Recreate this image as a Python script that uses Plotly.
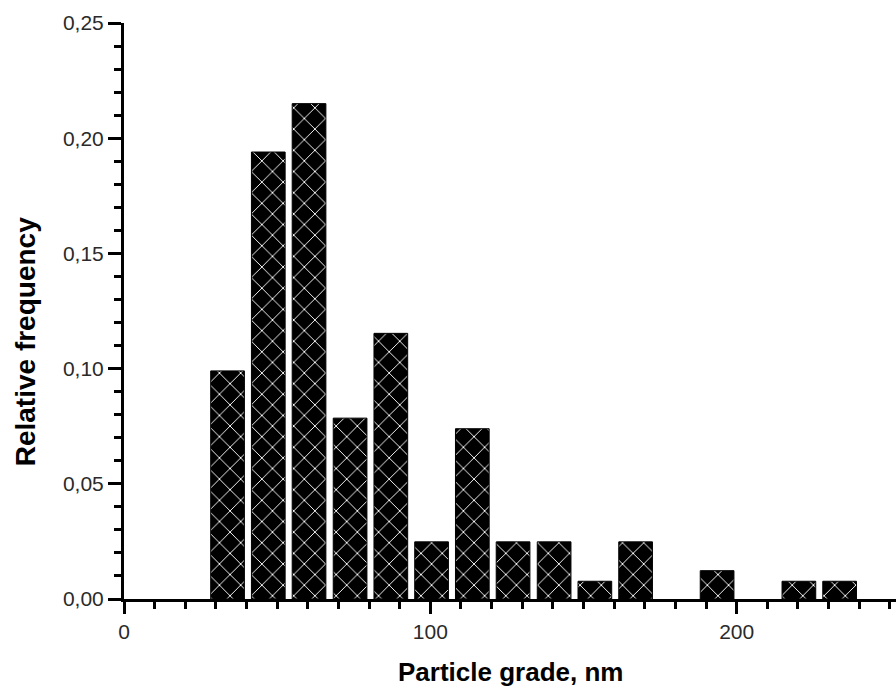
import plotly.graph_objects as go

# Data
bin_centers = [33.8, 47.1, 60.4, 73.8, 87.1, 100.4, 113.7, 127.0, 140.4, 153.7,
               167.0, 193.6, 220.3, 233.6]
rel_freq = [0.099, 0.194, 0.215, 0.0785, 0.1153, 0.0248, 0.0739, 0.0248, 0.0248,
            0.0077, 0.0248, 0.0123, 0.0077, 0.0077]
bar_width = 11.0
x_ticks = [0, 100, 200]
y_ticks = [0.0, 0.05, 0.10, 0.15, 0.20, 0.25]

fig = go.Figure()
fig.add_trace(go.Bar(
    x=bin_centers, y=rel_freq, width=bar_width,
    marker=dict(
        color="black",
        line=dict(color="black", width=1),
        pattern=dict(shape="x", fgcolor="white", bgcolor="black",
                     size=15, solidity=0.12, fillmode="replace"),
    ),
    showlegend=False,
))

tick_font = dict(family="Liberation Sans", size=21, color="#2a2a2a")

fig.update_layout(
    width=896, height=689,
    margin=dict(l=124, r=0, t=22.5, b=89.5),
    paper_bgcolor="white", plot_bgcolor="white",
    separators=",.",
    xaxis=dict(
        range=[0, 252], tickvals=x_ticks, ticktext=[str(v) for v in x_ticks],
        showgrid=False, zeroline=False, showline=True, linecolor="black", linewidth=3,
        ticks="outside", ticklen=12, tickwidth=3, tickcolor="black",
        minor=dict(dtick=10, ticks="outside", ticklen=7, tickwidth=3,
                   tickcolor="black", showgrid=False),
        tickfont=tick_font,
    ),
    yaxis=dict(
        range=[0, 0.25], tickvals=y_ticks, tickformat=".2f",
        showgrid=False, zeroline=False, showline=True, linecolor="black", linewidth=3,
        ticks="outside", ticklen=13, tickwidth=3, tickcolor="black",
        minor=dict(dtick=0.01, ticks="outside", ticklen=7, tickwidth=3,
                   tickcolor="black", showgrid=False),
        tickfont=tick_font,
    ),
    annotations=[
        dict(text="<b>Particle grade, nm</b>", xref="paper", yref="paper",
             x=0.5, y=-0.126, xanchor="center", yanchor="middle",
             showarrow=False, font=dict(family="Liberation Sans", size=26, color="black")),
        dict(text="<b>Relative frequency</b>", xref="paper", yref="paper",
             x=-0.128, y=0.446, xanchor="center", yanchor="middle", textangle=-90,
             showarrow=False, font=dict(family="Liberation Sans", size=28, color="black")),
    ],
)

fig.write_html("out.html")
